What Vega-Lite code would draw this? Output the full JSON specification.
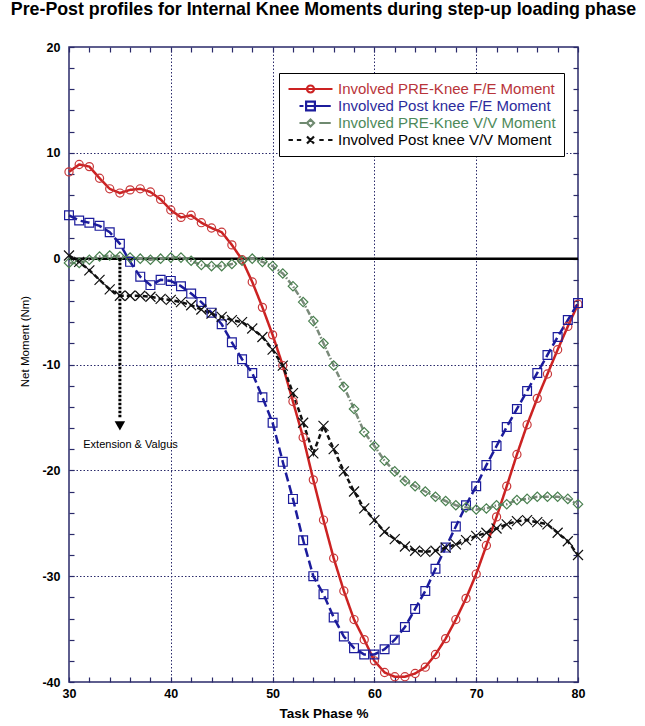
{
  "$schema": "https://vega.github.io/schema/vega-lite/v6.json",
  "width": 509,
  "height": 635,
  "autosize": {"type": "none"},
  "padding": {"left": 69, "top": 47, "right": 67, "bottom": 44},
  "title": {
    "text": "Pre-Post profiles for Internal Knee Moments during step-up loading phase",
    "font": "Liberation Sans",
    "fontSize": 17.8,
    "fontWeight": "bold",
    "color": "#000000",
    "anchor": "middle",
    "frame": "group",
    "baseline": "alphabetic",
    "offset": 8
  },
  "config": {
    "view": {"stroke": "#2a2a6a", "strokeWidth": 1.5},
    "font": "Liberation Sans"
  },
  "datasets": {
    "curves": [
      {"series": "Involved PRE-Knee F/E Moment", "phase": 30, "moment": 8.2},
      {"series": "Involved PRE-Knee F/E Moment", "phase": 31, "moment": 8.9},
      {"series": "Involved PRE-Knee F/E Moment", "phase": 32, "moment": 8.7},
      {"series": "Involved PRE-Knee F/E Moment", "phase": 33, "moment": 7.6},
      {"series": "Involved PRE-Knee F/E Moment", "phase": 34, "moment": 6.6},
      {"series": "Involved PRE-Knee F/E Moment", "phase": 35, "moment": 6.2},
      {"series": "Involved PRE-Knee F/E Moment", "phase": 36, "moment": 6.5},
      {"series": "Involved PRE-Knee F/E Moment", "phase": 37, "moment": 6.6},
      {"series": "Involved PRE-Knee F/E Moment", "phase": 38, "moment": 6.3},
      {"series": "Involved PRE-Knee F/E Moment", "phase": 39, "moment": 5.6},
      {"series": "Involved PRE-Knee F/E Moment", "phase": 40, "moment": 4.6},
      {"series": "Involved PRE-Knee F/E Moment", "phase": 41, "moment": 3.9},
      {"series": "Involved PRE-Knee F/E Moment", "phase": 42, "moment": 4.1},
      {"series": "Involved PRE-Knee F/E Moment", "phase": 43, "moment": 3.4},
      {"series": "Involved PRE-Knee F/E Moment", "phase": 44, "moment": 2.9},
      {"series": "Involved PRE-Knee F/E Moment", "phase": 45, "moment": 2.5},
      {"series": "Involved PRE-Knee F/E Moment", "phase": 46, "moment": 1.3},
      {"series": "Involved PRE-Knee F/E Moment", "phase": 47, "moment": -0.1},
      {"series": "Involved PRE-Knee F/E Moment", "phase": 48, "moment": -2.2},
      {"series": "Involved PRE-Knee F/E Moment", "phase": 49, "moment": -4.6},
      {"series": "Involved PRE-Knee F/E Moment", "phase": 50, "moment": -7.2},
      {"series": "Involved PRE-Knee F/E Moment", "phase": 51, "moment": -10.1},
      {"series": "Involved PRE-Knee F/E Moment", "phase": 52, "moment": -13.5},
      {"series": "Involved PRE-Knee F/E Moment", "phase": 53, "moment": -16.9},
      {"series": "Involved PRE-Knee F/E Moment", "phase": 54, "moment": -20.9},
      {"series": "Involved PRE-Knee F/E Moment", "phase": 55, "moment": -24.7},
      {"series": "Involved PRE-Knee F/E Moment", "phase": 56, "moment": -28.3},
      {"series": "Involved PRE-Knee F/E Moment", "phase": 57, "moment": -31.4},
      {"series": "Involved PRE-Knee F/E Moment", "phase": 58, "moment": -34.1},
      {"series": "Involved PRE-Knee F/E Moment", "phase": 59, "moment": -36.0},
      {"series": "Involved PRE-Knee F/E Moment", "phase": 60, "moment": -38.0},
      {"series": "Involved PRE-Knee F/E Moment", "phase": 61, "moment": -39.1},
      {"series": "Involved PRE-Knee F/E Moment", "phase": 62, "moment": -39.5},
      {"series": "Involved PRE-Knee F/E Moment", "phase": 63, "moment": -39.5},
      {"series": "Involved PRE-Knee F/E Moment", "phase": 64, "moment": -39.2},
      {"series": "Involved PRE-Knee F/E Moment", "phase": 65, "moment": -38.6},
      {"series": "Involved PRE-Knee F/E Moment", "phase": 66, "moment": -37.4},
      {"series": "Involved PRE-Knee F/E Moment", "phase": 67, "moment": -35.9},
      {"series": "Involved PRE-Knee F/E Moment", "phase": 68, "moment": -34.1},
      {"series": "Involved PRE-Knee F/E Moment", "phase": 69, "moment": -32.1},
      {"series": "Involved PRE-Knee F/E Moment", "phase": 70, "moment": -29.8},
      {"series": "Involved PRE-Knee F/E Moment", "phase": 71, "moment": -27.1},
      {"series": "Involved PRE-Knee F/E Moment", "phase": 72, "moment": -24.4},
      {"series": "Involved PRE-Knee F/E Moment", "phase": 73, "moment": -21.5},
      {"series": "Involved PRE-Knee F/E Moment", "phase": 74, "moment": -18.5},
      {"series": "Involved PRE-Knee F/E Moment", "phase": 75, "moment": -15.7},
      {"series": "Involved PRE-Knee F/E Moment", "phase": 76, "moment": -13.2},
      {"series": "Involved PRE-Knee F/E Moment", "phase": 77, "moment": -10.9},
      {"series": "Involved PRE-Knee F/E Moment", "phase": 78, "moment": -8.6},
      {"series": "Involved PRE-Knee F/E Moment", "phase": 79, "moment": -6.4},
      {"series": "Involved PRE-Knee F/E Moment", "phase": 80, "moment": -4.3},

      {"series": "Involved Post knee F/E Moment", "phase": 30, "moment": 4.1},
      {"series": "Involved Post knee F/E Moment", "phase": 31, "moment": 3.6},
      {"series": "Involved Post knee F/E Moment", "phase": 32, "moment": 3.4},
      {"series": "Involved Post knee F/E Moment", "phase": 33, "moment": 3.1},
      {"series": "Involved Post knee F/E Moment", "phase": 34, "moment": 2.5},
      {"series": "Involved Post knee F/E Moment", "phase": 35, "moment": 1.4},
      {"series": "Involved Post knee F/E Moment", "phase": 36, "moment": -0.3},
      {"series": "Involved Post knee F/E Moment", "phase": 37, "moment": -1.7},
      {"series": "Involved Post knee F/E Moment", "phase": 38, "moment": -2.5},
      {"series": "Involved Post knee F/E Moment", "phase": 39, "moment": -2.0},
      {"series": "Involved Post knee F/E Moment", "phase": 40, "moment": -2.1},
      {"series": "Involved Post knee F/E Moment", "phase": 41, "moment": -2.6},
      {"series": "Involved Post knee F/E Moment", "phase": 42, "moment": -3.3},
      {"series": "Involved Post knee F/E Moment", "phase": 43, "moment": -4.1},
      {"series": "Involved Post knee F/E Moment", "phase": 44, "moment": -5.1},
      {"series": "Involved Post knee F/E Moment", "phase": 45, "moment": -6.2},
      {"series": "Involved Post knee F/E Moment", "phase": 46, "moment": -7.9},
      {"series": "Involved Post knee F/E Moment", "phase": 47, "moment": -9.5},
      {"series": "Involved Post knee F/E Moment", "phase": 48, "moment": -10.8},
      {"series": "Involved Post knee F/E Moment", "phase": 49, "moment": -13.1},
      {"series": "Involved Post knee F/E Moment", "phase": 50, "moment": -15.5},
      {"series": "Involved Post knee F/E Moment", "phase": 51, "moment": -19.2},
      {"series": "Involved Post knee F/E Moment", "phase": 52, "moment": -22.7},
      {"series": "Involved Post knee F/E Moment", "phase": 53, "moment": -26.6},
      {"series": "Involved Post knee F/E Moment", "phase": 54, "moment": -30.0},
      {"series": "Involved Post knee F/E Moment", "phase": 55, "moment": -31.7},
      {"series": "Involved Post knee F/E Moment", "phase": 56, "moment": -33.9},
      {"series": "Involved Post knee F/E Moment", "phase": 57, "moment": -35.7},
      {"series": "Involved Post knee F/E Moment", "phase": 58, "moment": -36.8},
      {"series": "Involved Post knee F/E Moment", "phase": 59, "moment": -37.4},
      {"series": "Involved Post knee F/E Moment", "phase": 60, "moment": -37.4},
      {"series": "Involved Post knee F/E Moment", "phase": 61, "moment": -36.9},
      {"series": "Involved Post knee F/E Moment", "phase": 62, "moment": -36.0},
      {"series": "Involved Post knee F/E Moment", "phase": 63, "moment": -34.8},
      {"series": "Involved Post knee F/E Moment", "phase": 64, "moment": -33.1},
      {"series": "Involved Post knee F/E Moment", "phase": 65, "moment": -31.4},
      {"series": "Involved Post knee F/E Moment", "phase": 66, "moment": -29.3},
      {"series": "Involved Post knee F/E Moment", "phase": 67, "moment": -27.3},
      {"series": "Involved Post knee F/E Moment", "phase": 68, "moment": -25.3},
      {"series": "Involved Post knee F/E Moment", "phase": 69, "moment": -23.3},
      {"series": "Involved Post knee F/E Moment", "phase": 70, "moment": -21.5},
      {"series": "Involved Post knee F/E Moment", "phase": 71, "moment": -19.5},
      {"series": "Involved Post knee F/E Moment", "phase": 72, "moment": -17.7},
      {"series": "Involved Post knee F/E Moment", "phase": 73, "moment": -15.9},
      {"series": "Involved Post knee F/E Moment", "phase": 74, "moment": -14.2},
      {"series": "Involved Post knee F/E Moment", "phase": 75, "moment": -12.5},
      {"series": "Involved Post knee F/E Moment", "phase": 76, "moment": -10.8},
      {"series": "Involved Post knee F/E Moment", "phase": 77, "moment": -9.1},
      {"series": "Involved Post knee F/E Moment", "phase": 78, "moment": -7.4},
      {"series": "Involved Post knee F/E Moment", "phase": 79, "moment": -5.8},
      {"series": "Involved Post knee F/E Moment", "phase": 80, "moment": -4.2},

      {"series": "Involved PRE-Knee V/V Moment", "phase": 30, "moment": -0.4},
      {"series": "Involved PRE-Knee V/V Moment", "phase": 31, "moment": -0.4},
      {"series": "Involved PRE-Knee V/V Moment", "phase": 32, "moment": -0.1},
      {"series": "Involved PRE-Knee V/V Moment", "phase": 33, "moment": 0.2},
      {"series": "Involved PRE-Knee V/V Moment", "phase": 34, "moment": 0.3},
      {"series": "Involved PRE-Knee V/V Moment", "phase": 35, "moment": 0.2},
      {"series": "Involved PRE-Knee V/V Moment", "phase": 36, "moment": 0.1},
      {"series": "Involved PRE-Knee V/V Moment", "phase": 37, "moment": 0.0},
      {"series": "Involved PRE-Knee V/V Moment", "phase": 38, "moment": -0.1},
      {"series": "Involved PRE-Knee V/V Moment", "phase": 39, "moment": 0.0},
      {"series": "Involved PRE-Knee V/V Moment", "phase": 40, "moment": 0.1},
      {"series": "Involved PRE-Knee V/V Moment", "phase": 41, "moment": 0.1},
      {"series": "Involved PRE-Knee V/V Moment", "phase": 42, "moment": -0.2},
      {"series": "Involved PRE-Knee V/V Moment", "phase": 43, "moment": -0.6},
      {"series": "Involved PRE-Knee V/V Moment", "phase": 44, "moment": -0.7},
      {"series": "Involved PRE-Knee V/V Moment", "phase": 45, "moment": -0.7},
      {"series": "Involved PRE-Knee V/V Moment", "phase": 46, "moment": -0.5},
      {"series": "Involved PRE-Knee V/V Moment", "phase": 47, "moment": -0.2},
      {"series": "Involved PRE-Knee V/V Moment", "phase": 48, "moment": 0.0},
      {"series": "Involved PRE-Knee V/V Moment", "phase": 49, "moment": -0.3},
      {"series": "Involved PRE-Knee V/V Moment", "phase": 50, "moment": -0.7},
      {"series": "Involved PRE-Knee V/V Moment", "phase": 51, "moment": -1.4},
      {"series": "Involved PRE-Knee V/V Moment", "phase": 52, "moment": -2.6},
      {"series": "Involved PRE-Knee V/V Moment", "phase": 53, "moment": -4.1},
      {"series": "Involved PRE-Knee V/V Moment", "phase": 54, "moment": -5.9},
      {"series": "Involved PRE-Knee V/V Moment", "phase": 55, "moment": -8.0},
      {"series": "Involved PRE-Knee V/V Moment", "phase": 56, "moment": -10.1},
      {"series": "Involved PRE-Knee V/V Moment", "phase": 57, "moment": -12.1},
      {"series": "Involved PRE-Knee V/V Moment", "phase": 58, "moment": -14.2},
      {"series": "Involved PRE-Knee V/V Moment", "phase": 59, "moment": -16.4},
      {"series": "Involved PRE-Knee V/V Moment", "phase": 60, "moment": -17.7},
      {"series": "Involved PRE-Knee V/V Moment", "phase": 61, "moment": -19.1},
      {"series": "Involved PRE-Knee V/V Moment", "phase": 62, "moment": -20.1},
      {"series": "Involved PRE-Knee V/V Moment", "phase": 63, "moment": -21.0},
      {"series": "Involved PRE-Knee V/V Moment", "phase": 64, "moment": -21.5},
      {"series": "Involved PRE-Knee V/V Moment", "phase": 65, "moment": -22.0},
      {"series": "Involved PRE-Knee V/V Moment", "phase": 66, "moment": -22.5},
      {"series": "Involved PRE-Knee V/V Moment", "phase": 67, "moment": -22.9},
      {"series": "Involved PRE-Knee V/V Moment", "phase": 68, "moment": -23.3},
      {"series": "Involved PRE-Knee V/V Moment", "phase": 69, "moment": -23.5},
      {"series": "Involved PRE-Knee V/V Moment", "phase": 70, "moment": -23.7},
      {"series": "Involved PRE-Knee V/V Moment", "phase": 71, "moment": -23.6},
      {"series": "Involved PRE-Knee V/V Moment", "phase": 72, "moment": -23.3},
      {"series": "Involved PRE-Knee V/V Moment", "phase": 73, "moment": -23.2},
      {"series": "Involved PRE-Knee V/V Moment", "phase": 74, "moment": -22.8},
      {"series": "Involved PRE-Knee V/V Moment", "phase": 75, "moment": -22.7},
      {"series": "Involved PRE-Knee V/V Moment", "phase": 76, "moment": -22.5},
      {"series": "Involved PRE-Knee V/V Moment", "phase": 77, "moment": -22.5},
      {"series": "Involved PRE-Knee V/V Moment", "phase": 78, "moment": -22.5},
      {"series": "Involved PRE-Knee V/V Moment", "phase": 79, "moment": -22.7},
      {"series": "Involved PRE-Knee V/V Moment", "phase": 80, "moment": -23.2},

      {"series": "Involved Post knee V/V Moment", "phase": 30, "moment": 0.3},
      {"series": "Involved Post knee V/V Moment", "phase": 31, "moment": -0.3},
      {"series": "Involved Post knee V/V Moment", "phase": 32, "moment": -1.1},
      {"series": "Involved Post knee V/V Moment", "phase": 33, "moment": -2.0},
      {"series": "Involved Post knee V/V Moment", "phase": 34, "moment": -2.9},
      {"series": "Involved Post knee V/V Moment", "phase": 35, "moment": -3.5},
      {"series": "Involved Post knee V/V Moment", "phase": 36, "moment": -3.5},
      {"series": "Involved Post knee V/V Moment", "phase": 37, "moment": -3.5},
      {"series": "Involved Post knee V/V Moment", "phase": 38, "moment": -3.6},
      {"series": "Involved Post knee V/V Moment", "phase": 39, "moment": -3.8},
      {"series": "Involved Post knee V/V Moment", "phase": 40, "moment": -3.9},
      {"series": "Involved Post knee V/V Moment", "phase": 41, "moment": -4.1},
      {"series": "Involved Post knee V/V Moment", "phase": 42, "moment": -4.4},
      {"series": "Involved Post knee V/V Moment", "phase": 43, "moment": -4.8},
      {"series": "Involved Post knee V/V Moment", "phase": 44, "moment": -5.2},
      {"series": "Involved Post knee V/V Moment", "phase": 45, "moment": -5.5},
      {"series": "Involved Post knee V/V Moment", "phase": 46, "moment": -5.8},
      {"series": "Involved Post knee V/V Moment", "phase": 47, "moment": -6.0},
      {"series": "Involved Post knee V/V Moment", "phase": 48, "moment": -6.6},
      {"series": "Involved Post knee V/V Moment", "phase": 49, "moment": -7.4},
      {"series": "Involved Post knee V/V Moment", "phase": 50, "moment": -8.6},
      {"series": "Involved Post knee V/V Moment", "phase": 51, "moment": -10.1},
      {"series": "Involved Post knee V/V Moment", "phase": 52, "moment": -12.7},
      {"series": "Involved Post knee V/V Moment", "phase": 53, "moment": -15.5},
      {"series": "Involved Post knee V/V Moment", "phase": 54, "moment": -18.4},
      {"series": "Involved Post knee V/V Moment", "phase": 55, "moment": -15.8},
      {"series": "Involved Post knee V/V Moment", "phase": 56, "moment": -18.0},
      {"series": "Involved Post knee V/V Moment", "phase": 57, "moment": -20.1},
      {"series": "Involved Post knee V/V Moment", "phase": 58, "moment": -22.0},
      {"series": "Involved Post knee V/V Moment", "phase": 59, "moment": -23.6},
      {"series": "Involved Post knee V/V Moment", "phase": 60, "moment": -24.7},
      {"series": "Involved Post knee V/V Moment", "phase": 61, "moment": -25.8},
      {"series": "Involved Post knee V/V Moment", "phase": 62, "moment": -26.5},
      {"series": "Involved Post knee V/V Moment", "phase": 63, "moment": -27.2},
      {"series": "Involved Post knee V/V Moment", "phase": 64, "moment": -27.6},
      {"series": "Involved Post knee V/V Moment", "phase": 65, "moment": -27.7},
      {"series": "Involved Post knee V/V Moment", "phase": 66, "moment": -27.6},
      {"series": "Involved Post knee V/V Moment", "phase": 67, "moment": -27.3},
      {"series": "Involved Post knee V/V Moment", "phase": 68, "moment": -27.0},
      {"series": "Involved Post knee V/V Moment", "phase": 69, "moment": -26.6},
      {"series": "Involved Post knee V/V Moment", "phase": 70, "moment": -26.2},
      {"series": "Involved Post knee V/V Moment", "phase": 71, "moment": -25.9},
      {"series": "Involved Post knee V/V Moment", "phase": 72, "moment": -25.5},
      {"series": "Involved Post knee V/V Moment", "phase": 73, "moment": -25.1},
      {"series": "Involved Post knee V/V Moment", "phase": 74, "moment": -24.8},
      {"series": "Involved Post knee V/V Moment", "phase": 75, "moment": -24.7},
      {"series": "Involved Post knee V/V Moment", "phase": 76, "moment": -24.9},
      {"series": "Involved Post knee V/V Moment", "phase": 77, "moment": -25.1},
      {"series": "Involved Post knee V/V Moment", "phase": 78, "moment": -25.9},
      {"series": "Involved Post knee V/V Moment", "phase": 79, "moment": -26.7},
      {"series": "Involved Post knee V/V Moment", "phase": 80, "moment": -28.0}
    ],
    "zero": [{"moment": 0}],
    "arrow": [{"phase": 35, "moment": 0, "moment2": -15.0}],
    "arrowhead": [{"phase": 35, "moment": -15.8}],
    "note": [{"phase": 31.4, "moment": -17.6, "label": "Extension & Valgus"}],
    "frame": [{"phase": 30, "moment": 0}]
  },
  "layer": [
    {
      "data": {"name": "zero"},
      "mark": {"type": "rule", "color": "#000000", "strokeWidth": 2.5},
      "encoding": {
        "y": {"field": "moment", "type": "quantitative", "axis": null}
      }
    },
    {
      "data": {"name": "curves"},
      "mark": {"type": "line"},
      "encoding": {
        "x": {
          "field": "phase",
          "type": "quantitative",
          "scale": {"domain": [30, 80], "nice": false, "zero": false},
          "axis": {
            "orient": "bottom",
            "values": [30,32,34,36,38,40,42,44,46,48,50,52,54,56,58,60,62,64,66,68,70,72,74,76,78,80],
            "labelExpr": "datum.value % 10 === 0 ? '' + datum.value : ''",
            "labelOverlap": false,
            "labelFlush": false,
            "labelBound": false,
            "labelFont": "Liberation Sans",
            "labelFontWeight": "bold",
            "labelFontSize": 12.5,
            "labelColor": "#000000",
            "labelPadding": 10,
            "domain": false,
            "tickSize": -5,
            "tickColor": "#2a2a6a",
            "tickWidth": 1.2,
            "grid": true,
            "gridColor": "#2a2a6a",
            "gridDash": [1.5, 2],
            "gridWidth": 1,
            "gridOpacity": {"condition": {"test": "datum.value % 10 === 0 && datum.value > 30 && datum.value < 80", "value": 1}, "value": 0},
            "title": "Task Phase %",
            "titleFont": "Liberation Sans",
            "titleFontWeight": "bold",
            "titleFontSize": 13.5,
            "titleColor": "#000000",
            "titlePadding": 7
          }
        },
        "y": {
          "field": "moment",
          "type": "quantitative",
          "scale": {"domain": [-40, 20], "nice": false, "zero": false},
          "axis": {
            "orient": "left",
            "values": [-40,-38,-36,-34,-32,-30,-28,-26,-24,-22,-20,-18,-16,-14,-12,-10,-8,-6,-4,-2,0,2,4,6,8,10,12,14,16,18,20],
            "labelExpr": "datum.value % 10 === 0 ? '' + datum.value : ''",
            "labelOverlap": false,
            "labelFlush": false,
            "labelBound": false,
            "labelFont": "Liberation Sans",
            "labelFontWeight": "bold",
            "labelFontSize": 12.5,
            "labelColor": "#000000",
            "labelPadding": 14,
            "domain": false,
            "tickSize": -5,
            "tickColor": "#2a2a6a",
            "tickWidth": 1.2,
            "grid": true,
            "gridColor": "#2a2a6a",
            "gridDash": [1.5, 2],
            "gridWidth": 1,
            "gridOpacity": {"condition": {"test": "datum.value % 10 === 0 && datum.value > -40 && datum.value < 20 && datum.value !== 0", "value": 1}, "value": 0},
            "title": "Net Moment (Nm)",
            "titleFont": "Liberation Sans",
            "titleFontWeight": "normal",
            "titleFontSize": 11.5,
            "titleColor": "#000000",
            "titlePadding": 11,
            "titleY": 294
          }
        },
        "color": {
          "field": "series",
          "type": "nominal",
          "scale": {
            "domain": ["Involved PRE-Knee F/E Moment", "Involved Post knee F/E Moment", "Involved PRE-Knee V/V Moment", "Involved Post knee V/V Moment"],
            "range": ["#cc2222", "#1c1c9c", "#7a8a7a", "#111111"]
          },
          "legend": null
        },
        "strokeDash": {
          "field": "series",
          "type": "nominal",
          "scale": {
            "domain": ["Involved PRE-Knee F/E Moment", "Involved Post knee F/E Moment", "Involved PRE-Knee V/V Moment", "Involved Post knee V/V Moment"],
            "range": [[1, 0], [9, 4], [6, 2, 1.5, 2], [5, 3]]
          },
          "legend": null
        },
        "strokeWidth": {
          "field": "series",
          "type": "nominal",
          "scale": {
            "domain": ["Involved PRE-Knee F/E Moment", "Involved Post knee F/E Moment", "Involved PRE-Knee V/V Moment", "Involved Post knee V/V Moment"],
            "range": [2.5, 2.5, 1, 1.3]
          },
          "legend": null
        }
      }
    },
    {
      "data": {"name": "curves"},
      "mark": {"type": "point", "filled": false, "strokeWidth": 1.2, "opacity": 1},
      "encoding": {
        "x": {"field": "phase", "type": "quantitative", "axis": null},
        "y": {"field": "moment", "type": "quantitative", "axis": null},
        "stroke": {
          "field": "series",
          "type": "nominal",
          "scale": {
            "domain": ["Involved PRE-Knee F/E Moment", "Involved Post knee F/E Moment", "Involved PRE-Knee V/V Moment", "Involved Post knee V/V Moment"],
            "range": ["#c8383a", "#1c1c9c", "#4a8050", "#111111"]
          },
          "legend": null
        },
        "shape": {
          "field": "series",
          "type": "nominal",
          "scale": {
            "domain": ["Involved PRE-Knee F/E Moment", "Involved Post knee F/E Moment", "Involved PRE-Knee V/V Moment", "Involved Post knee V/V Moment"],
            "range": ["circle", "square", "diamond", "M-1,-1L1,1M-1,1L1,-1"]
          },
          "legend": null
        },
        "size": {
          "field": "series",
          "type": "nominal",
          "scale": {
            "domain": ["Involved PRE-Knee F/E Moment", "Involved Post knee F/E Moment", "Involved PRE-Knee V/V Moment", "Involved Post knee V/V Moment"],
            "range": [66, 100, 50, 90]
          },
          "legend": null
        }
      }
    },
    {
      "data": {"name": "curves"},
      "mark": {"type": "point", "filled": false, "opacity": 0},
      "encoding": {
        "x": {"field": "phase", "type": "quantitative", "axis": null},
        "y": {"field": "moment", "type": "quantitative", "axis": null},
        "shape": {
          "field": "series",
          "type": "nominal",
          "scale": {
            "domain": ["Involved PRE-Knee F/E Moment", "Involved Post knee F/E Moment", "Involved PRE-Knee V/V Moment", "Involved Post knee V/V Moment"],
            "range": [
              "M-1,0L1,0M-0.16,0A0.16,0.16 0 1,0 0.16,0A0.16,0.16 0 1,0 -0.16,0",
              "M-0.5,0L-0.32,0M-0.2,0L0.92,0M-0.2,-0.2L0.2,-0.2L0.2,0.2L-0.2,0.2Z",
              "M-0.5,0L-0.2,0M0,-0.16L0.16,0L0,0.16L-0.16,0ZM0.4,0L0.92,0",
              "M-1,0L-0.8,0M-0.62,0L-0.42,0M-0.16,-0.16L0.16,0.16M-0.16,0.16L0.16,-0.16M0.4,0L0.6,0M0.8,0L1,0"
            ]
          },
          "legend": {
            "orient": "none",
            "legendX": 210,
            "legendY": 26,
            "title": null,
            "strokeColor": "#000000",
            "fillColor": "#ffffff",
            "padding": 8,
            "rowPadding": 1,
            "clipHeight": 16,
            "labelFont": "Liberation Sans",
            "labelFontSize": 15,
            "labelLimit": 400,
            "labelOffset": 4,
            "labelColor": {"expr": "datum.value === 'Involved PRE-Knee F/E Moment' ? '#b8343a' : datum.value === 'Involved Post knee F/E Moment' ? '#2c2c9c' : datum.value === 'Involved PRE-Knee V/V Moment' ? '#4d8a5a' : '#000000'"},
            "symbolSize": 1936,
            "symbolOpacity": 1,
            "symbolFillColor": "transparent"
          }
        },
        "stroke": {
          "field": "series",
          "type": "nominal",
          "scale": {
            "domain": ["Involved PRE-Knee F/E Moment", "Involved Post knee F/E Moment", "Involved PRE-Knee V/V Moment", "Involved Post knee V/V Moment"],
            "range": ["#cc2222", "#1c1c9c", "#6f8a70", "#111111"]
          },
          "legend": {"title": null}
        },
        "strokeWidth": {
          "field": "series",
          "type": "nominal",
          "scale": {
            "domain": ["Involved PRE-Knee F/E Moment", "Involved Post knee F/E Moment", "Involved PRE-Knee V/V Moment", "Involved Post knee V/V Moment"],
            "range": [2.2, 2.2, 1.2, 1.3]
          },
          "legend": {"title": null}
        }
      }
    },
    {
      "data": {"name": "arrow"},
      "mark": {"type": "rule", "color": "#000000", "strokeWidth": 3, "strokeDash": [2.5, 1.5]},
      "encoding": {
        "x": {"field": "phase", "type": "quantitative", "axis": null},
        "y": {"field": "moment", "type": "quantitative", "axis": null},
        "y2": {"field": "moment2"}
      }
    },
    {
      "data": {"name": "arrowhead"},
      "mark": {"type": "point", "shape": "triangle-down", "filled": true, "color": "#000000", "size": 110, "opacity": 1},
      "encoding": {
        "x": {"field": "phase", "type": "quantitative", "axis": null},
        "y": {"field": "moment", "type": "quantitative", "axis": null}
      }
    },
    {
      "data": {"name": "note"},
      "mark": {"type": "text", "align": "left", "baseline": "middle", "font": "Liberation Sans", "fontSize": 11, "color": "#000000"},
      "encoding": {
        "x": {"field": "phase", "type": "quantitative", "axis": null},
        "y": {"field": "moment", "type": "quantitative", "axis": null},
        "text": {"field": "label"}
      }
    },
    {
      "data": {"name": "frame"},
      "mark": {"type": "point", "opacity": 0},
      "encoding": {
        "x": {
          "field": "phase",
          "type": "quantitative",
          "scale": {"domain": [30, 80], "nice": false, "zero": false},
          "axis": {
            "orient": "top",
            "values": [30,32,34,36,38,40,42,44,46,48,50,52,54,56,58,60,62,64,66,68,70,72,74,76,78,80],
            "labels": false,
            "domain": false,
            "grid": false,
            "tickSize": -5,
            "tickColor": "#2a2a6a",
            "tickWidth": 1.2,
            "title": null
          }
        },
        "y": {
          "field": "moment",
          "type": "quantitative",
          "scale": {"domain": [-40, 20], "nice": false, "zero": false},
          "axis": {
            "orient": "right",
            "values": [-40,-38,-36,-34,-32,-30,-28,-26,-24,-22,-20,-18,-16,-14,-12,-10,-8,-6,-4,-2,0,2,4,6,8,10,12,14,16,18,20],
            "labels": false,
            "domain": false,
            "grid": false,
            "tickSize": -5,
            "tickColor": "#2a2a6a",
            "tickWidth": 1.2,
            "title": null
          }
        }
      }
    }
  ],
  "resolve": {
    "axis": {"x": "independent", "y": "independent"},
    "scale": {"shape": "independent", "stroke": "independent", "strokeWidth": "independent"}
  }
}
